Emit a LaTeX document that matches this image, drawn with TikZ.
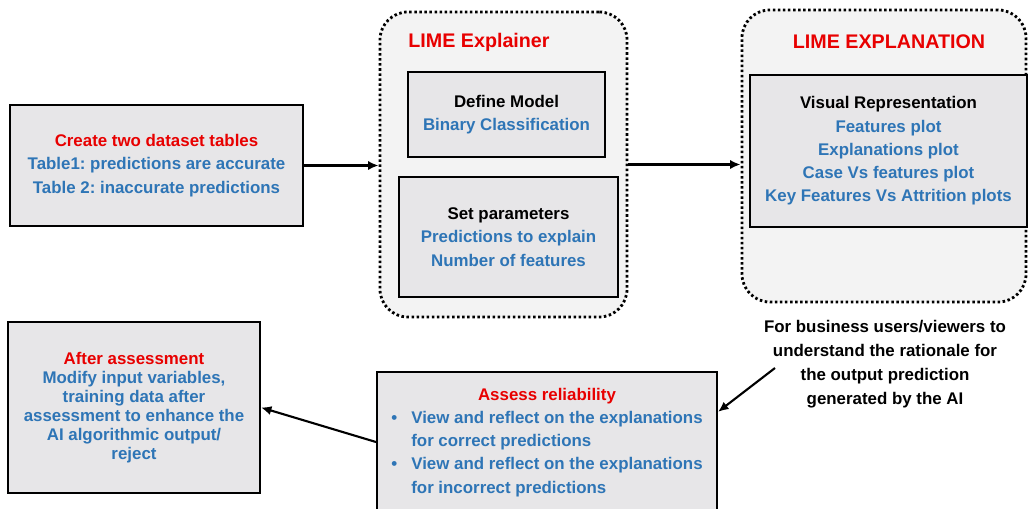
\documentclass[tikz,border=0pt]{standalone}
\usepackage{fontspec}
\setmainfont{Liberation Sans}
\usepackage{array}
\usepackage{tikz}
\usetikzlibrary{positioning}
\usetikzlibrary{arrows.meta}
\frenchspacing

\definecolor{limered}{RGB}{232,0,0}
\definecolor{limeblue}{RGB}{46,117,182}
\definecolor{boxgray}{RGB}{231,230,232}
\definecolor{panelgray}{RGB}{243,243,243}

\begin{document}
\begin{tikzpicture}[
        x=0.025cm, y=-0.025cm,
        box/.style={
            rectangle,
            draw,
            line width=1.4pt,
            fill=boxgray,
            align=center,
            inner sep=2pt,
            font=\bfseries\fontsize{12}{16.5}\selectfont
        },
        panel/.style={
            rectangle,
            draw,
            line width=2pt,
            dash pattern=on 1.8pt off 1.8pt,
            rounded corners=0.7cm,
            fill=panelgray
        },
        title/.style={
            text=limered,
            font=\bfseries\fontsize{14}{16}\selectfont
        },
        note/.style={
            align=center,
            font=\bfseries\fontsize{12}{17}\selectfont
        },
        arrow/.style={
            -{Latex[length=2.6mm, width=2.3mm]},
            line width=1.5pt
        }
    ]
    \useasboundingbox (0,0) rectangle (1028,508);

    % Nodes
    \node[box, minimum width=7.325cm, minimum height=3.025cm] (tables) at (156.5,165.5)
        {\textcolor{limered}{Create two dataset tables}\\
         \textcolor{limeblue}{Table1: predictions are accurate}\\
         \textcolor{limeblue}{Table 2: inaccurate predictions}};

    \node[panel, minimum width=6.175cm, minimum height=7.625cm] (explainer) at (503.5,164.5) {};
    \node[title] (explainertitle) at (479,42) {LIME Explainer};
    \node[box, minimum width=4.925cm, minimum height=2.125cm] (model) at (506.5,114.5)
        {Define Model\\ \textcolor{limeblue}{Binary Classification}};
    \node[box, minimum width=5.475cm, minimum height=3cm] (params) at (508.5,237)
        {Set parameters\\
         \textcolor{limeblue}{Predictions to explain}\\
         \textcolor{limeblue}{Number of features}};

    \node[panel, minimum width=7.1cm, minimum height=7.3cm] (explanation) at (884,156) {};
    \node[title] (explanationtitle) at (889,42) {LIME EXPLANATION};
    \node[box, minimum width=6.925cm, minimum height=3.8cm] (visual) at (888.5,151)
        {Visual Representation\\
         \textcolor{limeblue}{Features plot}\\
         \textcolor{limeblue}{Explanations plot}\\
         \textcolor{limeblue}{Case Vs features plot}\\
         \textcolor{limeblue}{Key Features Vs Attrition plots}};

    \node[note] (usernote) at (885,364.5)
        {For business users/viewers to\\
         understand the rationale for\\
         the output prediction\\
         generated by the AI};

    \node[box, minimum width=8.5cm, minimum height=3.5cm] (assess) at (547,442)
        {\begin{tabular}{@{}>{\color{limeblue}}l@{\hspace{10pt}}>{\color{limeblue}}l@{}}
         \multicolumn{2}{c}{\textcolor{limered}{Assess reliability}}\\
         \textbullet & View and reflect on the explanations\\
                     & for correct predictions\\
         \textbullet & View and reflect on the explanations\\
                     & for incorrect predictions
         \end{tabular}};

    \node[box, minimum width=6.3cm, minimum height=4.275cm,
          font=\bfseries\fontsize{12}{13.6}\selectfont] (after) at (134,407.5)
        {\textcolor{limered}{After assessment}\\
         \textcolor{limeblue}{Modify input variables,}\\
         \textcolor{limeblue}{training data after}\\
         \textcolor{limeblue}{assessment to enhance the}\\
         \textcolor{limeblue}{AI algorithmic output/}\\
         \textcolor{limeblue}{reject}};

    \coordinate (notetail) at (775,368);

    % Arrows
    \draw[arrow] (tables.east) -- (explainer.west |- tables.east);
    \draw[arrow] (explainer.east) -- (explanation.west |- explainer.east);
    \draw[arrow] (notetail) -- (assess.10);
    \draw[arrow] (assess.west) -- (after.east);

\end{tikzpicture}
\end{document}
